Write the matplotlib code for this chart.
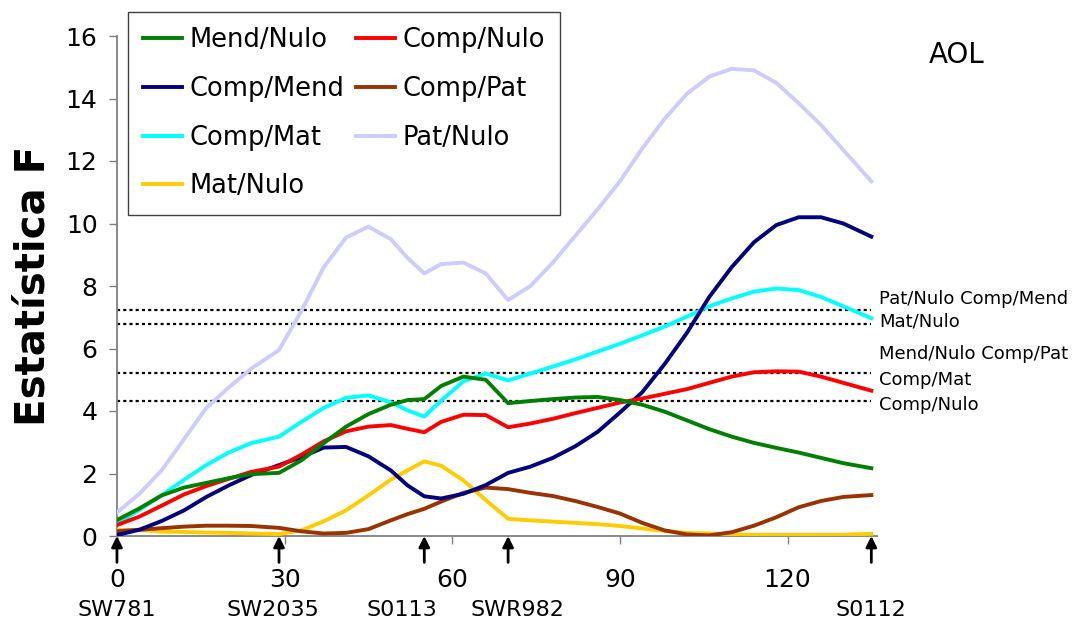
import matplotlib
matplotlib.use('Agg')
import matplotlib.pyplot as plt

# posicao (cM) e estatistica F de cada comparacao
pos = [0, 4, 8, 12, 16, 20, 24, 29, 33, 37, 41, 45, 49, 52, 55, 58, 62, 66, 70,
       74, 78, 82, 86, 90, 94, 98, 102, 106, 110, 114, 118, 122, 126, 130, 135]

mend_nulo = [0.51, 0.88, 1.3, 1.55, 1.7, 1.85, 1.98, 2.02, 2.42, 2.97, 3.5, 3.9, 4.2, 4.35, 4.38,
             4.8, 5.1, 5.0, 4.25, 4.32, 4.38, 4.43, 4.45, 4.35, 4.2, 3.98, 3.7, 3.42, 3.18,
             2.98, 2.82, 2.67, 2.5, 2.33, 2.17]
comp_nulo = [0.35, 0.62, 0.97, 1.33, 1.6, 1.83, 2.05, 2.22, 2.6, 3.03, 3.35, 3.5, 3.55, 3.43, 3.32,
             3.65, 3.88, 3.87, 3.48, 3.6, 3.75, 3.93, 4.1, 4.27, 4.4, 4.55, 4.7, 4.9, 5.1,
             5.24, 5.27, 5.26, 5.1, 4.9, 4.65]
comp_mend = [0.03, 0.2, 0.48, 0.82, 1.25, 1.62, 1.95, 2.27, 2.52, 2.83, 2.85, 2.55, 2.1, 1.62, 1.27,
             1.2, 1.35, 1.63, 2.02, 2.22, 2.5, 2.87, 3.33, 3.95, 4.6, 5.5, 6.5, 7.65, 8.6,
             9.4, 9.95, 10.2, 10.2, 10.0, 9.58]
comp_pat = [0.15, 0.2, 0.25, 0.3, 0.33, 0.33, 0.32, 0.26, 0.15, 0.08, 0.1, 0.22, 0.5, 0.7, 0.87,
            1.1, 1.38, 1.55, 1.5, 1.38, 1.28, 1.12, 0.93, 0.72, 0.42, 0.18, 0.05, 0.02, 0.12,
            0.33, 0.6, 0.92, 1.12, 1.25, 1.31]
comp_mat = [0.4, 0.83, 1.3, 1.8, 2.27, 2.67, 2.97, 3.18, 3.65, 4.1, 4.42, 4.5, 4.28, 4.02, 3.82,
            4.33, 4.95, 5.2, 4.98, 5.2, 5.42, 5.65, 5.9, 6.15, 6.42, 6.7, 7.02, 7.35, 7.6,
            7.82, 7.92, 7.87, 7.65, 7.35, 6.97]
pat_nulo = [0.75, 1.35, 2.1, 3.1, 4.1, 4.75, 5.35, 5.95, 7.2, 8.6, 9.55, 9.9, 9.5, 8.9, 8.4,
            8.7, 8.75, 8.4, 7.55, 8.0, 8.75, 9.6, 10.45, 11.35, 12.4, 13.35, 14.15, 14.7, 14.95,
            14.9, 14.5, 13.85, 13.15, 12.35, 11.35]
mat_nulo = [0.2, 0.19, 0.14, 0.13, 0.11, 0.1, 0.08, 0.06, 0.18, 0.47, 0.82, 1.3, 1.8, 2.1, 2.39,
            2.25, 1.78, 1.15, 0.55, 0.5, 0.46, 0.42, 0.38, 0.32, 0.24, 0.16, 0.1, 0.08, 0.05,
            0.04, 0.04, 0.04, 0.04, 0.04, 0.07]

# limiares (linhas pontilhadas)
limiares = [7.23, 6.78, 5.22, 4.33]
lim_textos = ['Pat/Nulo Comp/Mend', 'Mat/Nulo', 'Mend/Nulo Comp/Pat', 'Comp/Mat', 'Comp/Nulo']
lim_text_y = [7.58, 6.85, 5.82, 5.0, 4.19]

# marcadores
marc_pos = [0, 29, 55, 70, 135]
marc_nomes = ['SW781', 'SW2035', 'S0113', 'SWR982', 'S0112']
marc_text_x = [0, 28, 51, 71.7, 135]

plt.rcParams['font.family'] = ['DejaVu Sans']

fig = plt.figure(figsize=(10.81, 6.25), dpi=100)
ax = fig.add_axes([0.1082, 0.1424, 0.703, 0.8])

series = [('Mend/Nulo', mend_nulo, '#008000'),
          ('Comp/Nulo', comp_nulo, '#FF0000'),
          ('Comp/Mend', comp_mend, '#000080'),
          ('Comp/Pat', comp_pat, '#993300'),
          ('Comp/Mat', comp_mat, '#00FFFF'),
          ('Pat/Nulo', pat_nulo, '#CCCCFF'),
          ('Mat/Nulo', mat_nulo, '#FFCC00')]

lines = {}
# desenha a lavanda primeiro (fica atras)
for name, vals, col in series[::-1]:
    l, = ax.plot(pos, vals, color=col, lw=2.8, label=name, solid_joinstyle='round', zorder=3)
    lines[name] = l

for y in limiares:
    ax.hlines(y, 0, 135, colors='black', linestyles=(0, (1.4, 1.4)), lw=1.6, zorder=2)

for t, y in zip(lim_textos, lim_text_y):
    ax.text(136.4, y, t, fontsize=13, ha='left', va='center', clip_on=False)

ax.set_xlim(0, 136)
ax.set_ylim(0, 16)
ax.set_xticks([0, 30, 60, 90, 120])
ax.set_yticks(range(0, 17, 2))
ax.tick_params(axis='x', direction='out', length=6, width=1, color='#808080', labelsize=18, pad=17)
ax.tick_params(axis='y', direction='out', length=6, width=1, color='#808080', labelsize=18, pad=8)
for s in ['top', 'right']:
    ax.spines[s].set_visible(False)
for s in ['left', 'bottom']:
    ax.spines[s].set_color('#808080')
    ax.spines[s].set_linewidth(1.3)

ax.set_ylabel('Estatística F', fontsize=29, fontweight='bold', labelpad=9)

for x, nx_, nome in zip(marc_pos, marc_text_x, marc_nomes):
    ax.annotate('', xy=(x, 0), xycoords='data', xytext=(0, -19), textcoords='offset points',
                arrowprops=dict(arrowstyle='-|>', color='black', lw=2, mutation_scale=16,
                                shrinkA=0, shrinkB=0),
                annotation_clip=False)
    ax.annotate(nome, xy=(nx_, 0), xytext=(0, -53), textcoords='offset points',
                ha='center', va='center', fontsize=16, annotation_clip=False)

order = ['Mend/Nulo', 'Comp/Mend', 'Comp/Mat', 'Mat/Nulo', 'Comp/Nulo', 'Comp/Pat', 'Pat/Nulo']
leg = fig.legend([lines[n] for n in order], order, ncol=2, loc='upper left',
                 bbox_to_anchor=(128 / 1081, 1 - 12 / 625), fontsize=18.5,
                 frameon=True, fancybox=False, edgecolor='#404040', framealpha=1,
                 handlelength=1.5, handletextpad=0.3, columnspacing=0.45,
                 labelspacing=0.88, borderpad=0.6, borderaxespad=0)
leg.get_frame().set_linewidth(1.0)

fig.text(957 / 1081, 1 - 55 / 625, 'AOL', fontsize=20, ha='center', va='center')

fig.savefig('out.png', dpi=100)
